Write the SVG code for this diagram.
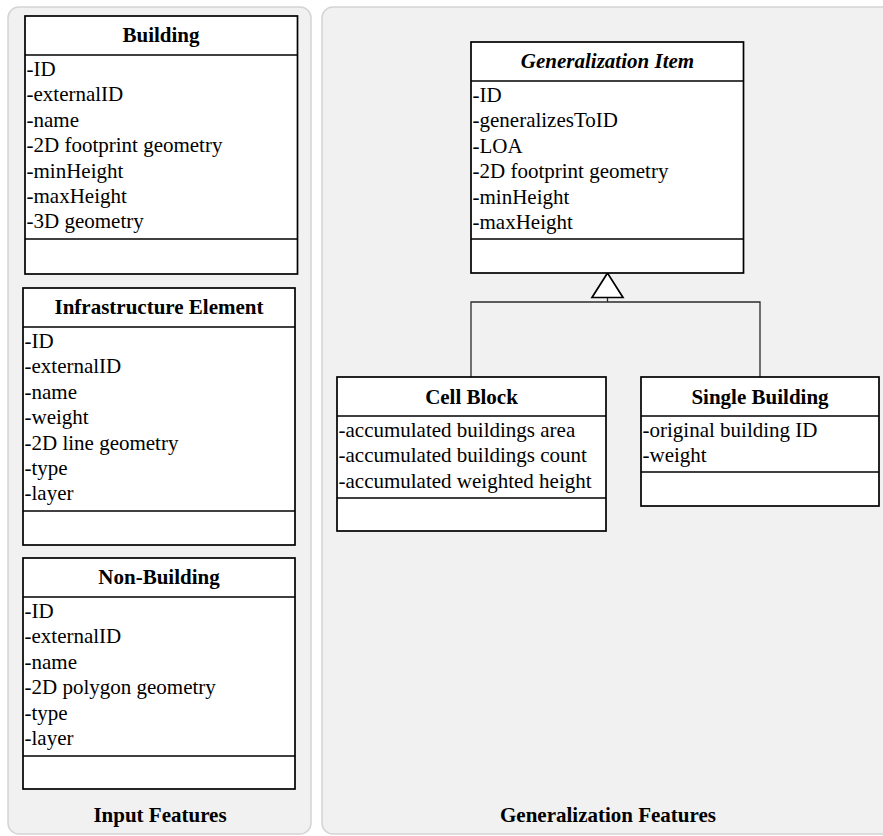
<svg xmlns="http://www.w3.org/2000/svg" width="883" height="836" viewBox="0 0 883 836">
  <style>
    .panel { fill: #f1f1f1; stroke: #d4d4d4; stroke-width: 1.5; }
    .box { fill: #ffffff; stroke: #000000; stroke-width: 1.7; }
    .sep { stroke: #000000; stroke-width: 1.7; }
    .title { font-family: "Liberation Serif", "Times New Roman", serif; font-size: 21px; font-weight: bold; text-anchor: middle; fill: #000; }
    .ital { font-style: italic; }
    .attr { font-family: "Liberation Serif", "Times New Roman", serif; font-size: 21px; fill: #000; }
    .edge { fill: none; stroke: #2b2b2b; stroke-width: 1.3; }
    .head { fill: #ffffff; stroke: #000000; stroke-width: 1.7; }
  </style>

  <!-- containers -->
  <g id="input-features">
    <rect class="panel" x="8" y="7" width="303" height="827" rx="11"/>
    <text class="title" x="160" y="822">Input Features</text>
  </g>
  <g id="generalization-features">
    <rect class="panel" x="322" y="7" width="590" height="827" rx="11"/>
    <text class="title" x="608" y="822">Generalization Features</text>
  </g>

  <!-- connectors: inheritance from the two subclasses -->
  <g id="connectors">
    <path class="edge" d="M471 377 V302 H760 V377"/>
    <path class="edge" d="M607.5 297.5 V302"/>
    <polygon class="head" points="607.5,273 592,297.5 623,297.5"/>
  </g>

  <g id="building">
    <rect class="box" x="25" y="16" width="272.5" height="258"/>
    <line class="sep" x1="25" y1="55" x2="297.5" y2="55"/>
    <line class="sep" x1="25" y1="239" x2="297.5" y2="239"/>
    <text class="title" x="161" y="42">Building</text>
    <text class="attr" x="26.5" y="76">-ID</text>
    <text class="attr" x="26.5" y="101.4">-externalID</text>
    <text class="attr" x="26.5" y="126.8">-name</text>
    <text class="attr" x="26.5" y="152.2">-2D footprint geometry</text>
    <text class="attr" x="26.5" y="177.6">-minHeight</text>
    <text class="attr" x="26.5" y="203">-maxHeight</text>
    <text class="attr" x="26.5" y="228.4">-3D geometry</text>
  </g>

  <g id="infrastructure-element">
    <rect class="box" x="23" y="288" width="272" height="257"/>
    <line class="sep" x1="23" y1="327" x2="295" y2="327"/>
    <line class="sep" x1="23" y1="511" x2="295" y2="511"/>
    <text class="title" x="159" y="314">Infrastructure Element</text>
    <text class="attr" x="24.5" y="348">-ID</text>
    <text class="attr" x="24.5" y="373.4">-externalID</text>
    <text class="attr" x="24.5" y="398.8">-name</text>
    <text class="attr" x="24.5" y="424.2">-weight</text>
    <text class="attr" x="24.5" y="449.6">-2D line geometry</text>
    <text class="attr" x="24.5" y="475">-type</text>
    <text class="attr" x="24.5" y="500.4">-layer</text>
  </g>

  <g id="non-building">
    <rect class="box" x="23" y="558" width="272" height="231"/>
    <line class="sep" x1="23" y1="597" x2="295" y2="597"/>
    <line class="sep" x1="23" y1="756" x2="295" y2="756"/>
    <text class="title" x="159" y="584">Non-Building</text>
    <text class="attr" x="24.5" y="618">-ID</text>
    <text class="attr" x="24.5" y="643.4">-externalID</text>
    <text class="attr" x="24.5" y="668.8">-name</text>
    <text class="attr" x="24.5" y="694.2">-2D polygon geometry</text>
    <text class="attr" x="24.5" y="719.6">-type</text>
    <text class="attr" x="24.5" y="745">-layer</text>
  </g>

  <g id="generalization-item">
    <rect class="box" x="471" y="42" width="272.5" height="231"/>
    <line class="sep" x1="471" y1="81" x2="743.5" y2="81"/>
    <line class="sep" x1="471" y1="239" x2="743.5" y2="239"/>
    <text class="title ital" x="607.5" y="68">Generalization Item</text>
    <text class="attr" x="472.5" y="102">-ID</text>
    <text class="attr" x="472.5" y="127.4">-generalizesToID</text>
    <text class="attr" x="472.5" y="152.8">-LOA</text>
    <text class="attr" x="472.5" y="178.2">-2D footprint geometry</text>
    <text class="attr" x="472.5" y="203.6">-minHeight</text>
    <text class="attr" x="472.5" y="229">-maxHeight</text>
  </g>

  <g id="cell-block">
    <rect class="box" x="337" y="377" width="269" height="154"/>
    <line class="sep" x1="337" y1="416" x2="606" y2="416"/>
    <line class="sep" x1="337" y1="498" x2="606" y2="498"/>
    <text class="title" x="471.5" y="403.5">Cell Block</text>
    <text class="attr" x="338.5" y="437">-accumulated buildings area</text>
    <text class="attr" x="338.5" y="462.4">-accumulated buildings count</text>
    <text class="attr" x="338.5" y="487.8">-accumulated weighted height</text>
  </g>

  <g id="single-building">
    <rect class="box" x="641" y="377" width="238" height="129"/>
    <line class="sep" x1="641" y1="416" x2="879" y2="416"/>
    <line class="sep" x1="641" y1="472" x2="879" y2="472"/>
    <text class="title" x="760" y="403.5">Single Building</text>
    <text class="attr" x="642.5" y="437">-original building ID</text>
    <text class="attr" x="642.5" y="462.4">-weight</text>
  </g>
</svg>
